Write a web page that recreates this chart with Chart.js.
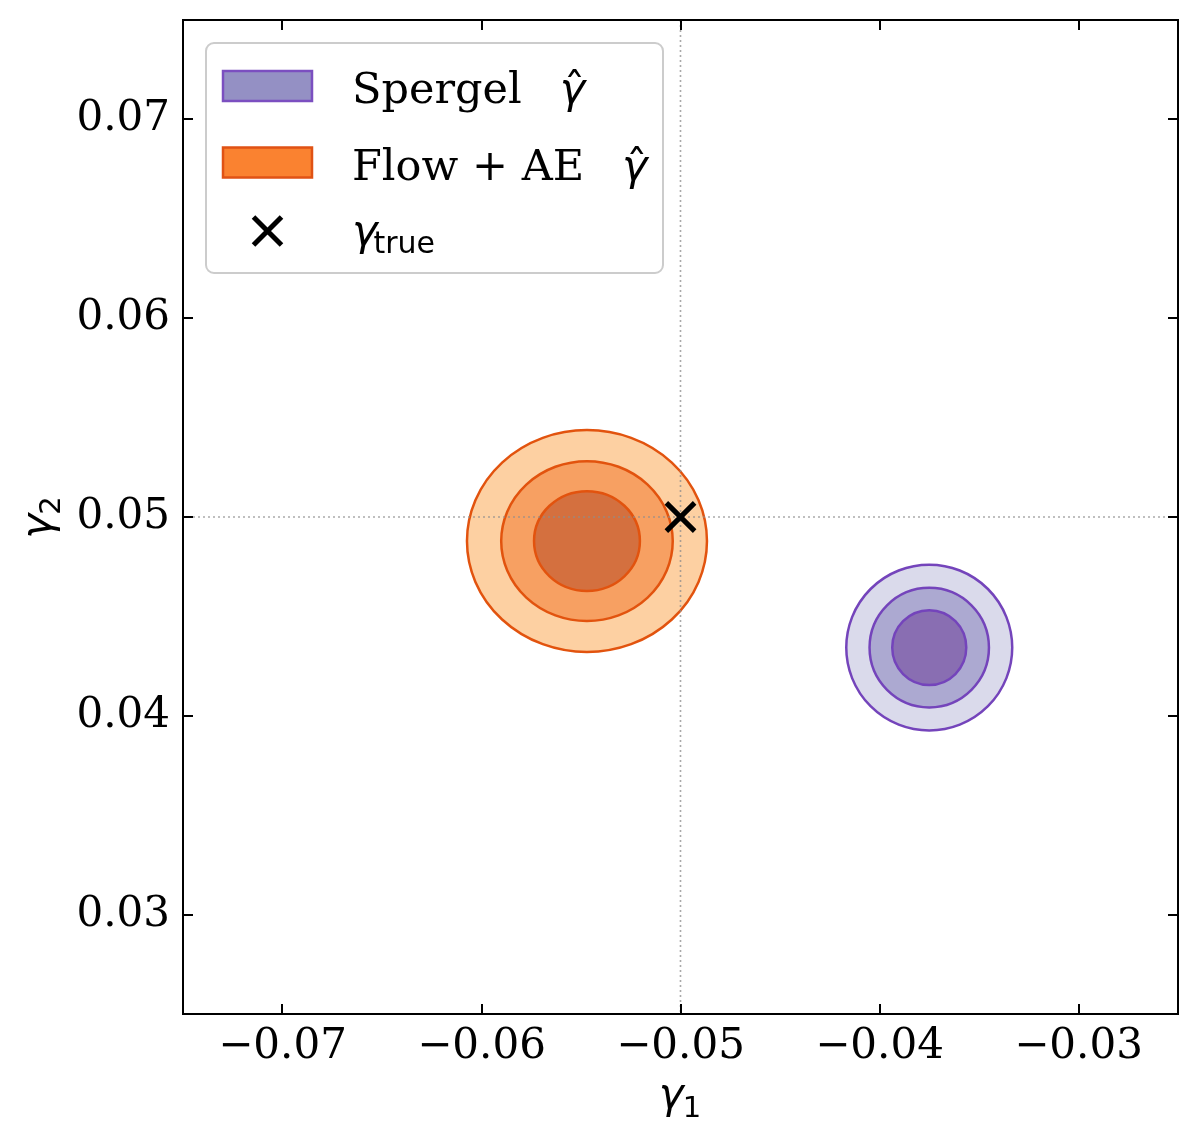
<!DOCTYPE html>
<html><head><meta charset="utf-8">
<script src="https://cdn.jsdelivr.net/npm/chart.js@4.4.0/dist/chart.umd.min.js"></script>
<style>html,body{margin:0;padding:0;background:#fff}#wrap{width:1198px;height:1142px}</style>
</head><body><div id="wrap"><canvas id="c" width="1198" height="1142"></canvas></div>
<script>
// ---- data ----
const xTicks = [-0.07, -0.06, -0.05, -0.04, -0.03];
const xTickLabels = ['\u22120.07', '\u22120.06', '\u22120.05', '\u22120.04', '\u22120.03'];
const yTicks = [0.03, 0.04, 0.05, 0.06, 0.07];
const yTickLabels = ['0.03', '0.04', '0.05', '0.06', '0.07'];
const xRange = [-0.075, -0.025];
const yRange = [0.025, 0.075];
const trueShear = [-0.05, 0.05];
// contour levels: outer, middle, inner
const spergelCenter = [-0.0375, 0.04343];
const spergelRadiusX = [0.00417, 0.00300, 0.00186];
const spergelRadiusY = [0.00417, 0.00301, 0.00188];
const flowCenter = [-0.0547, 0.04879];
const flowRadiusX = [0.00603, 0.00431, 0.00266];
const flowRadiusY = [0.00558, 0.00402, 0.00251];
const seriesNames = ['Spergel', 'Flow + AE'];
const hatSymbol = ['\u03b3', '\u02c6'];
const trueLabel = ['\u03b3', 'true'];
const xTitle = ['\u03b3', '1'];
const yTitle = ['\u03b3', '2'];

// ---- styles ----
const spergelFills = ['#dadaeb', '#aca9d1', '#896eb2'];
const spergelEdge = '#7444bb';
const flowFills = ['#fdd0a2', '#f7a062', '#d4703f'];
const flowEdge = '#e2530e';
const legendPatchFill = ['#9490c4', '#fa8230'];
const legendPatchEdge = ['#7b4fc0', '#e05214'];
const serif = '"DejaVu Serif"';
const sans = '"DejaVu Sans"';

function drawSubscripted(ctx, parts, x0, y0, rotate, align) {
  ctx.save();
  ctx.translate(x0, y0);
  if (rotate) ctx.rotate(-Math.PI / 2);
  ctx.textBaseline = 'alphabetic';
  ctx.textAlign = 'left';
  ctx.font = 'italic 42px ' + sans;
  const w1 = ctx.measureText(parts[0]).width;
  ctx.font = '29px ' + sans;
  const w2 = ctx.measureText(parts[1]).width;
  const start = align === 'center' ? -(w1 + w2) / 2 : 0;
  ctx.fillStyle = '#000';
  ctx.font = 'italic 42px ' + sans;
  ctx.fillText(parts[0], start, 0);
  ctx.font = '29px ' + sans;
  ctx.fillText(parts[1], start + w1 - 1, 9);
  ctx.restore();
}

const contourPlugin = {
  id: 'contours',
  beforeDatasetsDraw(chart) {
    const {ctx, chartArea: a, scales: {x, y}} = chart;
    ctx.save();
    ctx.beginPath(); ctx.rect(a.left, a.top, a.width, a.height); ctx.clip();
    chart.data.datasets.forEach(ds => {
      const c = ds.contour;
      if (!c) return;
      const cx = x.getPixelForValue(c.center[0]);
      const cy = y.getPixelForValue(c.center[1]);
      c.rx.forEach((r, i) => {
        const px = Math.abs(x.getPixelForValue(c.center[0] + r) - cx);
        const py = Math.abs(y.getPixelForValue(c.center[1] + c.ry[i]) - cy);
        ctx.beginPath();
        ctx.ellipse(cx, cy, px, py, 0, 0, 2 * Math.PI);
        ctx.fillStyle = c.fills[i];
        ctx.fill();
        ctx.lineWidth = 2.5;
        ctx.strokeStyle = c.edge;
        ctx.stroke();
      });
    });
    // reference lines at the true shear
    const tx = x.getPixelForValue(trueShear[0]);
    const ty = y.getPixelForValue(trueShear[1]);
    ctx.strokeStyle = 'rgba(140,140,140,0.75)';
    ctx.lineWidth = 1.6;
    ctx.setLineDash([2, 3]);
    ctx.beginPath(); ctx.moveTo(tx, a.top); ctx.lineTo(tx, a.bottom); ctx.stroke();
    ctx.beginPath(); ctx.moveTo(a.left, ty); ctx.lineTo(a.right, ty); ctx.stroke();
    ctx.restore();
  },
  afterDraw(chart) {
    const {ctx, chartArea: a, scales: {x, y}} = chart;
    ctx.save();
    ctx.strokeStyle = '#000';
    ctx.lineWidth = 2;
    ctx.strokeRect(a.left, a.top, a.width, a.height);
    const tl = 10;
    ctx.beginPath();
    xTicks.forEach(v => {
      const p = Math.round(x.getPixelForValue(v));
      ctx.moveTo(p, a.bottom); ctx.lineTo(p, a.bottom - tl);
      ctx.moveTo(p, a.top); ctx.lineTo(p, a.top + tl);
    });
    yTicks.forEach(v => {
      const p = Math.round(y.getPixelForValue(v));
      ctx.moveTo(a.left, p); ctx.lineTo(a.left + tl, p);
      ctx.moveTo(a.right, p); ctx.lineTo(a.right - tl, p);
    });
    ctx.stroke();

    // axis titles
    drawSubscripted(ctx, xTitle, (a.left + a.right) / 2, 1108, false, 'center');
    drawSubscripted(ctx, yTitle, 51, (a.top + a.bottom) / 2, true, 'center');

    // legend
    const bx = a.left + 23, by = a.top + 23, bw = 457, bh = 230;
    ctx.beginPath();
    ctx.roundRect(bx, by, bw, bh, 8);
    ctx.fillStyle = 'rgba(255,255,255,0.85)';
    ctx.fill();
    ctx.lineWidth = 2;
    ctx.strokeStyle = '#cccccc';
    ctx.stroke();
    const rows = [by + 43, by + 119.5, by + 188];
    const textX = bx + 146;
    for (let i = 0; i < 2; i++) {
      ctx.fillStyle = legendPatchFill[i];
      ctx.strokeStyle = legendPatchEdge[i];
      ctx.lineWidth = 2.5;
      ctx.fillRect(bx + 17, rows[i] - 15, 89, 30);
      ctx.strokeRect(bx + 17, rows[i] - 15, 89, 30);
      ctx.fillStyle = '#000';
      ctx.textBaseline = 'alphabetic';
      ctx.textAlign = 'left';
      ctx.font = '43px ' + serif;
      ctx.fillText(seriesNames[i], textX, rows[i] + 17);
      const gx = textX + ctx.measureText(seriesNames[i]).width + 38;
      ctx.font = 'italic 43px ' + sans;
      const gw = ctx.measureText(hatSymbol[0]).width;
      ctx.fillText(hatSymbol[0], gx, rows[i] + 17);
      ctx.font = '43px ' + sans;
      const hw = ctx.measureText(hatSymbol[1]).width;
      ctx.fillText(hatSymbol[1], gx + gw / 2 - hw / 2 + 2, rows[i] + 17);
    }
    // marker row
    const mx = bx + 61.5, my = rows[2];
    ctx.strokeStyle = '#000';
    ctx.lineWidth = 5;
    ctx.beginPath();
    ctx.moveTo(mx - 14, my - 14); ctx.lineTo(mx + 14, my + 14);
    ctx.moveTo(mx - 14, my + 14); ctx.lineTo(mx + 14, my - 14);
    ctx.stroke();
    ctx.fillStyle = '#000';
    ctx.font = 'italic 43px ' + sans;
    ctx.fillText(trueLabel[0], textX, my + 14);
    const gw2 = ctx.measureText(trueLabel[0]).width;
    ctx.font = '30px ' + sans;
    ctx.fillText(trueLabel[1], textX + gw2 - 4, my + 22);
    ctx.restore();
  }
};

function zeroPad(s) { s.paddingTop = 0; s.paddingBottom = 0; s.paddingLeft = 0; s.paddingRight = 0; }

new Chart(document.getElementById('c'), {
  type: 'scatter',
  data: {
    datasets: [
      { label: seriesNames[0], data: [{x: spergelCenter[0], y: spergelCenter[1]}], pointRadius: 0,
        contour: {center: spergelCenter, rx: spergelRadiusX, ry: spergelRadiusY, fills: spergelFills, edge: spergelEdge} },
      { label: seriesNames[1], data: [{x: flowCenter[0], y: flowCenter[1]}], pointRadius: 0,
        contour: {center: flowCenter, rx: flowRadiusX, ry: flowRadiusY, fills: flowFills, edge: flowEdge} },
      { label: 'true', data: [{x: trueShear[0], y: trueShear[1]}], pointStyle: 'crossRot', pointRadius: 20,
        pointBorderWidth: 5, borderColor: '#000', backgroundColor: '#000' }
    ]
  },
  options: {
    responsive: false,
    animation: false,
    events: [],
    layout: {autoPadding: false, padding: {top: 20, right: 20, left: 0, bottom: 0}},
    plugins: {legend: {display: false}, tooltip: {enabled: false}},
    scales: {
      x: {
        type: 'linear', min: xRange[0], max: xRange[1],
        grid: {display: false, drawTicks: false}, border: {display: false},
        afterBuildTicks: s => { s.ticks = xTicks.map(v => ({value: v})); },
        afterFit: s => { s.height = 128; zeroPad(s); },
        ticks: {padding: 8, color: '#000', font: {family: 'DejaVu Serif', size: 42},
          callback: (v) => xTickLabels[xTicks.indexOf(v)]}
      },
      y: {
        type: 'linear', min: yRange[0], max: yRange[1],
        grid: {display: false, drawTicks: false}, border: {display: false},
        afterBuildTicks: s => { s.ticks = yTicks.map(v => ({value: v})); },
        afterFit: s => { s.width = 183; zeroPad(s); },
        ticks: {padding: 13, color: '#000', font: {family: 'DejaVu Serif', size: 42},
          callback: (v) => yTickLabels[yTicks.indexOf(v)]}
      }
    }
  },
  plugins: [contourPlugin]
});
</script></body></html>
